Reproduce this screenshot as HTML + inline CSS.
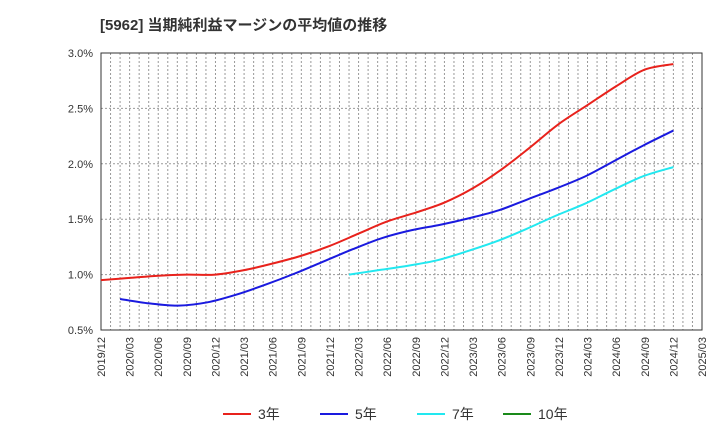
<!DOCTYPE html>
<html><head><meta charset="utf-8"><style>
body{margin:0;background:#fff;width:720px;height:440px;overflow:hidden}
text{font-family:"Liberation Sans","Noto Sans CJK JP",sans-serif}
</style></head><body>
<svg id="chart" width="720" height="440" xmlns="http://www.w3.org/2000/svg">
<text x="100" y="30" font-size="15" font-weight="bold" fill="#333">[5962]  当期純利益マージンの平均値の推移</text>
<g id="grid"></g><g id="axes"></g><g id="series"></g><g id="legend"></g>
</svg>
<script>
const xLabels=["2019/12","2020/03","2020/06","2020/09","2020/12","2021/03","2021/06","2021/09","2021/12","2022/03","2022/06","2022/09","2022/12","2023/03","2023/06","2023/09","2023/12","2024/03","2024/06","2024/09","2024/12","2025/03"];
const yTicks=[0.5,1.0,1.5,2.0,2.5,3.0];
const s3=[0.95,0.97,0.99,1.00,1.00,1.04,1.10,1.17,1.26,1.37,1.48,1.56,1.65,1.78,1.95,2.15,2.36,2.53,2.70,2.85,2.90];
const s5=[0.78,0.74,0.72,0.75,0.82,0.91,1.01,1.12,1.23,1.33,1.40,1.45,1.51,1.58,1.68,1.78,1.89,2.03,2.17,2.30];
const s7=[1.00,1.04,1.08,1.13,1.21,1.30,1.41,1.53,1.64,1.77,1.89,1.97];
const s10=[];
const L=101,R=702,T=53,B=330,NS="http://www.w3.org/2000/svg";
const xm=m=>L+(R-L)*m/63;
const y=v=>B-(v-0.5)/2.5*(B-T);
function mk(t,a,p){const e=document.createElementNS(NS,t);for(const k in a)e.setAttribute(k,a[k]);p.appendChild(e);return e;}
const g=document.getElementById('grid'),ax=document.getElementById('axes'),se=document.getElementById('series'),lg=document.getElementById('legend');
for(let m=1;m<63;m++){const x=xm(m);const l=mk('line',{x1:x,x2:x,y1:T,y2:B,stroke:'#999','stroke-dasharray':'2,2','stroke-width':1},g);
}
yTicks.forEach(v=>{const l=mk('line',{x1:L,x2:R,y1:y(v),y2:y(v),stroke:'#999','stroke-dasharray':'2,2'},g);

const t=mk('text',{x:L-8,y:y(v)+4,'text-anchor':'end','font-size':11,fill:'#333'},ax);t.textContent=v.toFixed(1)+'%';
});
const fr=mk('rect',{x:L,y:T,width:R-L,height:B-T,fill:'none',stroke:'#333','stroke-width':1},ax);

xLabels.forEach((s,i)=>{const x=xm(i*3)+4;const t=mk('text',{x:x,y:B+7,'text-anchor':'end','font-size':11,fill:'#333',transform:`rotate(-90 ${x} ${B+7})`},ax);t.textContent=s;
});
function path(arr,start){const step=(60-start)/(arr.length-1);const p=arr.map((v,i)=>[xm(start+i*step),y(v)]);if(p.length<2)return '';let d=`M${p[0][0]},${p[0][1]}`;
for(let i=0;i<p.length-1;i++){const p0=p[Math.max(i-1,0)],p1=p[i],p2=p[i+1],p3=p[Math.min(i+2,p.length-1)];
d+=` C${p1[0]+(p2[0]-p0[0])/6},${p1[1]+(p2[1]-p0[1])/6} ${p2[0]-(p3[0]-p1[0])/6},${p2[1]-(p3[1]-p1[1])/6} ${p2[0]},${p2[1]}`;}return d;}
[[s3,0,'#e8221c','line-3yr'],[s5,2,'#1a1adf','line-5yr'],[s7,26,'#22e8f0','line-7yr'],[s10,0,'#1a8a1a','line-10yr']].forEach(([a,o,c,n])=>{
if(a.length<2)return;const e=mk('path',{d:path(a,o),fill:'none',stroke:c,'stroke-width':2},se);
});
[['3年','#e8221c',223],['5年','#1a1adf',320],['7年','#22e8f0',417],['10年','#1a8a1a',503]].forEach(([s,c,x])=>{
const gg=mk('g',{},lg);
mk('line',{x1:x,x2:x+28,y1:414,y2:414,stroke:c,'stroke-width':2},gg);
const t=mk('text',{x:x+35,y:419,'font-size':14,fill:'#333'},gg);t.textContent=s;});
</script>
</body></html>
